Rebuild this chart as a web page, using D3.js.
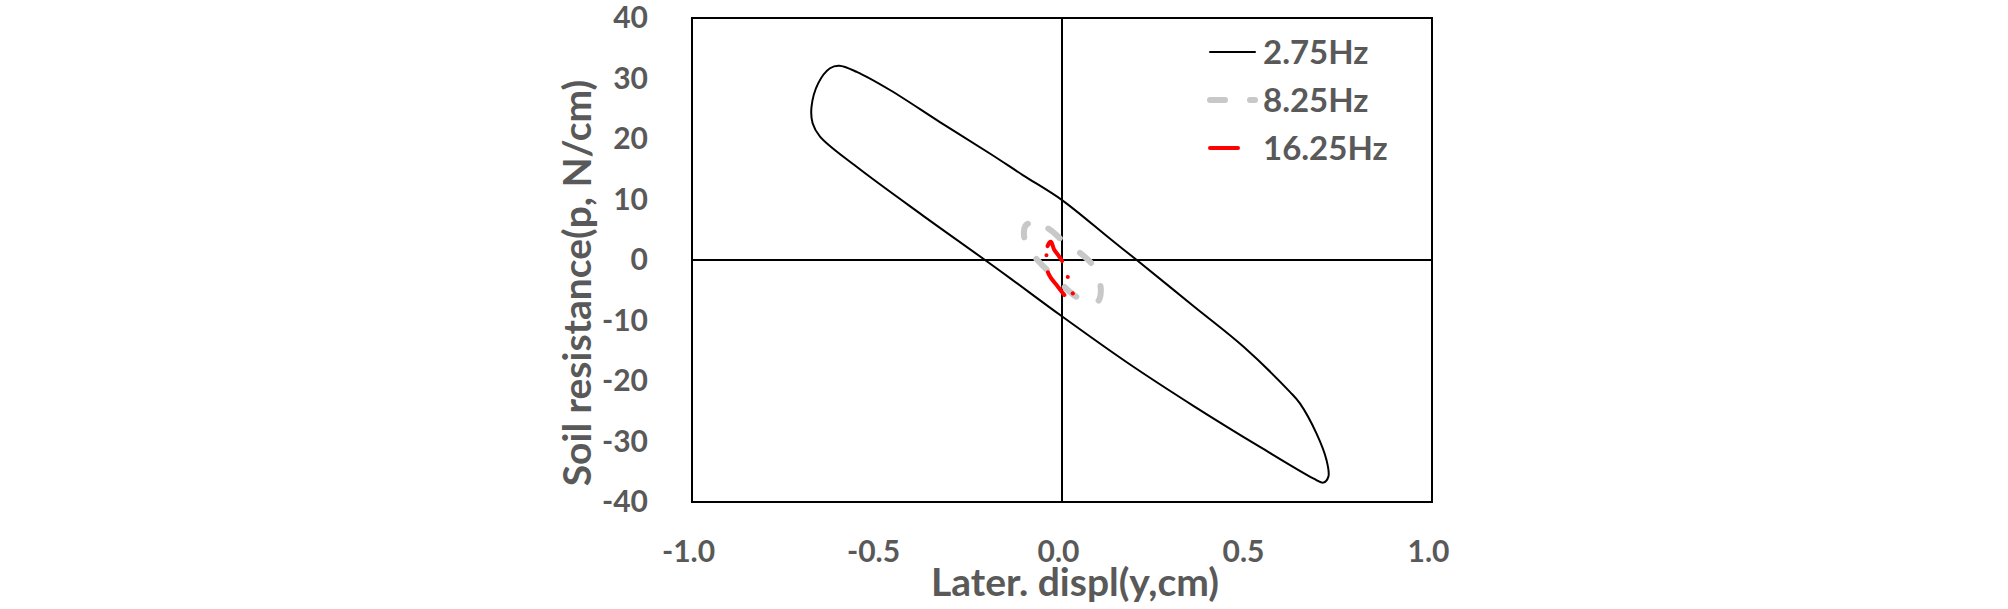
<!DOCTYPE html>
<html>
<head>
<meta charset="utf-8">
<script src="https://cdn.jsdelivr.net/npm/d3@7"></script>
<style>
  body { margin: 0; background: #fff; }
  text { font-family: Lato, "Open Sans", sans-serif; font-weight: bold; fill: #595959; }
</style>
</head>
<body>
<svg id="chart" width="2008" height="609"></svg>
<script>
// tick labels
var xTicks = [-1.0, -0.5, 0.0, 0.5, 1.0];
var yTicks = [-40, -30, -20, -10, 0, 10, 20, 30, 40];

var seriesNames = ["2.75Hz", "8.25Hz", "16.25Hz"];

// 2.75Hz loop
var hz275X = [-0.602, -0.555, -0.465, -0.330, -0.195, -0.105, 0.000, 0.130, 0.202, 0.355, 0.490, 0.616,
  0.643, 0.688, 0.715, 0.720, 0.706, 0.679, 0.535, 0.355, 0.175, -0.005, -0.136, -0.208, -0.375,
  -0.555, -0.654, -0.674, -0.677, -0.659, -0.627];
var hz275Y = [32.1, 31.1, 28.1, 22.8, 17.6, 14.0, 9.9, 3.5, 0.0, -7.6, -14.3, -21.8,
  -23.7, -28.7, -33.1, -35.8, -36.8, -36.1, -30.9, -24.1, -16.9, -9.1, -3.2, 0.0, 7.3,
  15.4, 20.4, 22.6, 25.3, 29.2, 31.7];

// 8.25Hz loop
var hz825X = [-0.085, -0.037, 0.000, 0.044, 0.080, 0.098, 0.105, 0.100, 0.088, 0.060, 0.026,
  -0.010, -0.046, -0.075, -0.098, -0.103, -0.098];
var hz825Y = [6.1, 5.2, 3.3, 1.4, -0.6, -2.8, -5.0, -6.6, -7.2, -6.8, -5.5,
  -3.4, -1.3, 0.6, 2.8, 4.6, 5.7];

// 16.25Hz loop
var hz1625X = [-0.042, -0.039, -0.030, -0.021, -0.008, 0.005, 0.014, 0.022, 0.031, 0.022, 0.014,
  -0.010, -0.037];
var hz1625Y = [0.5, 2.3, 3.0, 1.7, 0.6, -0.7, -2.4, -4.5, -6.1, -6.7, -6.3,
  -4.5, -2.2];

var width = 2008, height = 609;
var margin = { top: 18, right: 576, bottom: 107, left: 692 };

var svg = d3.select("#chart");

var x = d3.scaleLinear()
  .domain([-1, 1])
  .range([margin.left, width - margin.right]);

var y = d3.scaleLinear()
  .domain([-40, 40])
  .range([height - margin.bottom, margin.top]);

var xAxis = g => g
  .attr("transform", `translate(0,${height - margin.bottom})`)
  .call(d3.axisBottom(x).tickValues(xTicks).tickSize(0).tickPadding(39)
    .tickFormat(d => d.toFixed(1)))
  .call(g => g.select(".domain").remove())
  .call(g => g.selectAll("text").attr("font-size", 30).attr("dx", -4)
    .attr("font-family", null).attr("fill", null));

var yAxis = g => g
  .attr("transform", `translate(${margin.left},0)`)
  .call(d3.axisLeft(y).tickValues(yTicks).tickSize(0).tickPadding(44)
    .tickFormat(d => d.toFixed(0)))
  .call(g => g.select(".domain").remove())
  .call(g => g.selectAll("text").attr("font-size", 30).attr("font-family", null).attr("fill", null));

svg.append("g").call(xAxis);
svg.append("g").call(yAxis);

// plot frame
svg.append("rect")
  .attr("x", x(-1))
  .attr("y", y(40))
  .attr("width", x(1) - x(-1))
  .attr("height", y(-40) - y(40))
  .attr("fill", "none")
  .attr("stroke", "#000")
  .attr("stroke-width", 2);

// zero lines
svg.append("line")
  .attr("x1", x(-1)).attr("x2", x(1))
  .attr("y1", y(0)).attr("y2", y(0))
  .attr("stroke", "#000").attr("stroke-width", 2);
svg.append("line")
  .attr("x1", x(0)).attr("x2", x(0))
  .attr("y1", y(-40)).attr("y2", y(40))
  .attr("stroke", "#000").attr("stroke-width", 2);

var loop = d3.line()
  .x(d => x(d[0]))
  .y(d => y(d[1]))
  .curve(d3.curveCatmullRomClosed.alpha(0.5));

var series = [
  { name: seriesNames[0], xs: hz275X, ys: hz275Y, color: "#000", w: 2, dash: null },
  { name: seriesNames[1], xs: hz825X, ys: hz825Y, color: "#c8c8c8", w: 6, dash: "15,25" },
  { name: seriesNames[2], xs: hz1625X, ys: hz1625Y, color: "#ff0000", w: 4, dash: "28,17,0.1,17,0.1,17" }
];

series.forEach(s => {
  svg.append("path")
    .datum(d3.zip(s.xs, s.ys))
    .attr("fill", "none")
    .attr("stroke", s.color)
    .attr("stroke-width", s.w)
    .attr("stroke-linecap", "round")
    .attr("stroke-linejoin", "round")
    .attr("stroke-dasharray", s.dash)
    .attr("d", loop);
});

// legend
var legend = svg.append("g");
series.forEach((s, i) => {
  var ly = 52 + i * 48;
  legend.append("line")
    .attr("x1", 1210).attr("x2", 1255)
    .attr("y1", ly).attr("y2", ly)
    .attr("stroke", s.color)
    .attr("stroke-width", s.w)
    .attr("stroke-linecap", "round")
    .attr("stroke-dasharray", s.dash);
  legend.append("text")
    .attr("x", 1263)
    .attr("y", ly)
    .attr("dy", "0.36em")
    .attr("font-size", 33)
    .text(s.name);
});

// axis titles
svg.append("text")
  .attr("x", 1075)
  .attr("y", 596)
  .attr("text-anchor", "middle")
  .attr("font-size", 39)
  .text("Later. displ(y,cm)");

svg.append("text")
  .attr("transform", "translate(591,283) rotate(-90)")
  .attr("text-anchor", "middle")
  .attr("font-size", 39)
  .text("Soil resistance(p, N/cm)");
</script>
</body>
</html>
